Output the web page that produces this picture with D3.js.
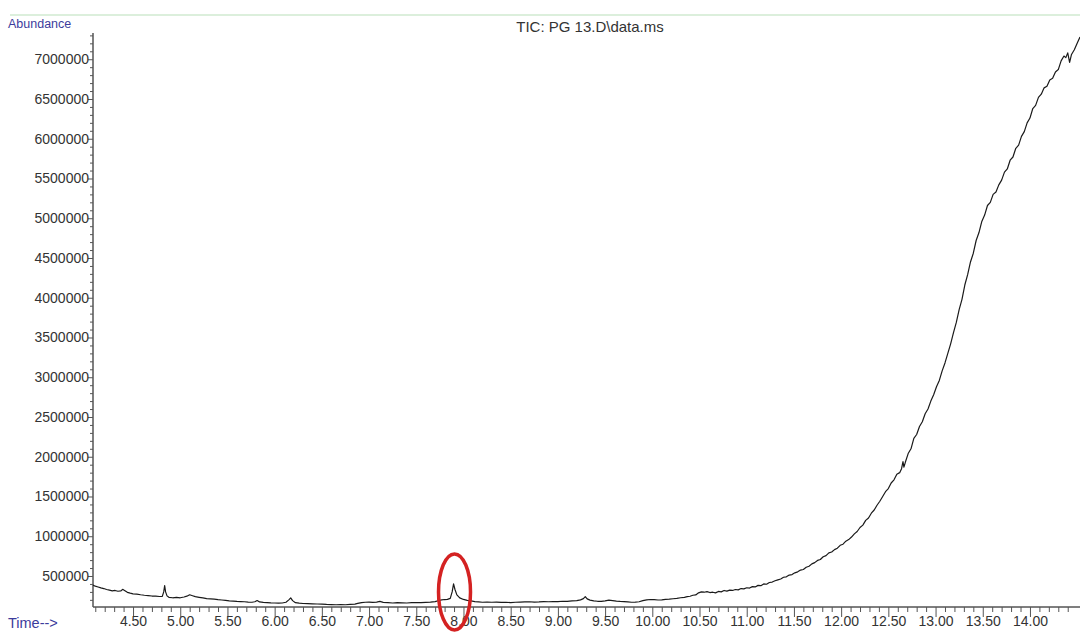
<!DOCTYPE html>
<html>
<head>
<meta charset="utf-8">
<script src="https://cdn.jsdelivr.net/npm/d3@7"></script>
<style>
  html, body { margin: 0; padding: 0; background: #fff; }
  svg { display: block; }
  text { font-family: "Liberation Sans", Arial, Helvetica, sans-serif; }
</style>
</head>
<body>
<svg id="chart" width="1080" height="632"></svg>
<script>
// Total ion chromatogram, PG 13.D
const title = "TIC: PG 13.D\\data.ms";
const yLabel = "Abundance";
const xLabel = "Time-->";

// retention time (min)
const time = [
  4.076, 4.10, 4.13, 4.16, 4.19, 4.22, 4.25, 4.28, 4.31, 4.34,
  4.37, 4.39, 4.41, 4.44, 4.47, 4.50, 4.54, 4.58, 4.62, 4.66,
  4.70, 4.74, 4.78, 4.81, 4.825, 4.835, 4.845, 4.86, 4.88, 4.92,
  4.96, 5.00, 5.04, 5.07, 5.10, 5.13, 5.16, 5.20, 5.24, 5.28,
  5.32, 5.36, 5.40, 5.44, 5.48, 5.52, 5.56, 5.60, 5.64, 5.68,
  5.72, 5.76, 5.79, 5.815, 5.84, 5.88, 5.92, 5.96, 6.00, 6.04,
  6.08, 6.12, 6.15, 6.17, 6.19, 6.22, 6.26, 6.30, 6.35, 6.40,
  6.45, 6.50, 6.55, 6.60, 6.65, 6.70, 6.75, 6.80, 6.85, 6.88,
  6.92, 6.96, 7.00, 7.04, 7.08, 7.115, 7.15, 7.20, 7.25, 7.30,
  7.35, 7.40, 7.45, 7.50, 7.55, 7.60, 7.65, 7.70, 7.74, 7.77,
  7.80, 7.83, 7.86, 7.88, 7.895, 7.91, 7.93, 7.96, 8.00, 8.04,
  8.08, 8.12, 8.16, 8.20, 8.25, 8.30, 8.35, 8.40, 8.45, 8.50,
  8.55, 8.60, 8.65, 8.70, 8.75, 8.80, 8.85, 8.90, 8.95, 9.00,
  9.05, 9.10, 9.15, 9.20, 9.24, 9.27, 9.29, 9.31, 9.34, 9.38,
  9.42, 9.46, 9.50, 9.54, 9.58, 9.62, 9.66, 9.70, 9.74, 9.78,
  9.82, 9.86, 9.90, 9.94, 9.98, 10.02, 10.06, 10.10, 10.14, 10.18,
  10.22, 10.26, 10.30, 10.34, 10.37, 10.40, 10.43, 10.46, 10.49, 10.52,
  10.55, 10.58, 10.61, 10.64, 10.67, 10.70, 10.73, 10.76, 10.79, 10.82,
  10.85, 10.88, 10.91, 10.94, 10.97, 11.00, 11.03, 11.06, 11.09, 11.12,
  11.15, 11.18, 11.21, 11.24, 11.27, 11.30, 11.33, 11.36, 11.39, 11.42,
  11.45, 11.48, 11.51, 11.54, 11.57, 11.60, 11.63, 11.66, 11.69, 11.72,
  11.75, 11.78, 11.81, 11.84, 11.87, 11.90, 11.93, 11.96, 11.99, 12.02,
  12.05, 12.08, 12.11, 12.14, 12.17, 12.20, 12.23, 12.26, 12.29, 12.32,
  12.35, 12.38, 12.41, 12.44, 12.47, 12.50, 12.53, 12.56, 12.59, 12.62,
  12.64, 12.655, 12.665, 12.68, 12.71, 12.74, 12.77, 12.80, 12.83, 12.86,
  12.89, 12.92, 12.95, 12.98, 13.01, 13.04, 13.07, 13.10, 13.13, 13.16,
  13.19, 13.22, 13.25, 13.28, 13.31, 13.34, 13.37, 13.40, 13.43, 13.46,
  13.49, 13.52, 13.55, 13.58, 13.61, 13.64, 13.67, 13.70, 13.73, 13.76,
  13.79, 13.82, 13.85, 13.88, 13.91, 13.94, 13.97, 14.00, 14.03, 14.06,
  14.09, 14.12, 14.15, 14.18, 14.21, 14.24, 14.27, 14.30, 14.33, 14.36,
  14.38, 14.40, 14.42, 14.44, 14.47, 14.50, 14.53
];

// total ion abundance at each retention time
const abundance = [
  385000, 372000, 362000, 350000, 342000, 330000, 322000, 312000, 318000, 308000,
  312000, 332000, 318000, 294000, 284000, 276000, 272000, 264000, 258000, 254000,
  248000, 246000, 242000, 244000, 300000, 378000, 300000, 250000, 232000, 226000,
  230000, 226000, 236000, 246000, 264000, 252000, 240000, 232000, 224000, 216000,
  212000, 208000, 202000, 198000, 194000, 188000, 184000, 180000, 178000, 176000,
  172000, 170000, 176000, 192000, 174000, 168000, 166000, 162000, 160000, 158000,
  160000, 170000, 200000, 224000, 190000, 164000, 158000, 154000, 152000, 150000,
  148000, 146000, 142000, 140000, 138000, 140000, 138000, 142000, 146000, 156000,
  166000, 170000, 172000, 168000, 172000, 180000, 168000, 164000, 160000, 164000,
  162000, 160000, 164000, 166000, 164000, 168000, 172000, 178000, 192000, 200000,
  204000, 206000, 218000, 300000, 400000, 330000, 262000, 225000, 205000, 194000,
  186000, 178000, 174000, 170000, 172000, 170000, 172000, 168000, 170000, 166000,
  170000, 172000, 174000, 176000, 172000, 174000, 178000, 176000, 178000, 178000,
  182000, 180000, 186000, 190000, 200000, 215000, 240000, 212000, 196000, 186000,
  182000, 180000, 186000, 196000, 190000, 184000, 180000, 178000, 174000, 170000,
  172000, 176000, 190000, 200000, 204000, 202000, 198000, 200000, 206000, 208000,
  214000, 218000, 226000, 232000, 240000, 245000, 258000, 262000, 288000, 300000,
  296000, 304000, 292000, 296000, 288000, 306000, 300000, 318000, 310000, 322000,
  318000, 330000, 326000, 342000, 338000, 352000, 348000, 366000, 362000, 382000,
  378000, 400000, 396000, 418000, 424000, 440000, 452000, 462000, 484000, 490000,
  512000, 518000, 540000, 552000, 574000, 582000, 610000, 622000, 652000, 668000,
  696000, 708000, 742000, 756000, 790000, 802000, 832000, 850000, 886000, 900000,
  938000, 958000, 990000, 1030000, 1060000, 1110000, 1140000, 1200000, 1230000, 1290000,
  1330000, 1390000, 1440000, 1500000, 1560000, 1600000, 1670000, 1710000, 1780000, 1800000,
  1850000, 1940000, 1870000, 1930000, 2040000, 2100000, 2230000, 2280000, 2380000, 2440000,
  2540000, 2600000, 2700000, 2780000, 2880000, 2960000, 3080000, 3180000, 3300000, 3420000,
  3560000, 3690000, 3850000, 3980000, 4160000, 4290000, 4450000, 4560000, 4720000, 4820000,
  4960000, 5040000, 5160000, 5200000, 5300000, 5330000, 5420000, 5480000, 5580000, 5620000,
  5730000, 5770000, 5880000, 5920000, 6030000, 6090000, 6200000, 6260000, 6380000, 6420000,
  6520000, 6560000, 6640000, 6660000, 6740000, 6760000, 6840000, 6870000, 6980000, 7040000,
  7020000, 7080000, 6960000, 7060000, 7120000, 7200000, 7280000
];

// axis ticks
const xTicks = [4.5, 5, 5.5, 6, 6.5, 7, 7.5, 8, 8.5, 9, 9.5, 10, 10.5, 11, 11.5, 12, 12.5, 13, 13.5, 14];
const yTicks = [500000, 1000000, 1500000, 2000000, 2500000, 3000000, 3500000,
                4000000, 4500000, 5000000, 5500000, 6000000, 6500000, 7000000];

// highlighted peak
const peakTime = 7.905;
const peakMid = 300000;

const svg = d3.select("#chart");
const W = 1080, H = 632;
const plotLeft = 93, plotRight = 1080, plotTop = 33, plotBottom = 607;

const x = d3.scaleLinear().domain([4.076, 14.53]).range([plotLeft, plotRight]);
const y = d3.scaleLinear().domain([110000, 7330000]).range([plotBottom, plotTop]);

// faint rule along the top
svg.append("line")
  .attr("x1", 10).attr("x2", W).attr("y1", 15).attr("y2", 15)
  .attr("stroke", "#dcefdc").attr("stroke-width", 2);

// title and axis captions
svg.append("text").attr("x", 590).attr("y", 32).attr("text-anchor", "middle")
  .attr("font-size", 15).attr("fill", "#333").text(title);
svg.append("text").attr("x", 8).attr("y", 28)
  .attr("font-size", 12.5).attr("fill", "#3c3c9c").text(yLabel);
svg.append("text").attr("x", 8).attr("y", 628)
  .attr("font-size", 14.5).attr("fill", "#3c3c9c").text(xLabel);

// y axis: major labelled ticks, minor ticks every 100000
const yMinor = d3.range(200000, 7300001, 100000).filter(v => v % 500000 !== 0);
const yAxisG = svg.append("g").attr("transform", `translate(${plotLeft},0)`);
yAxisG.call(d3.axisLeft(y).tickValues(yMinor).tickSize(3).tickFormat(""));
yAxisG.append("g").call(d3.axisLeft(y).tickValues(yTicks).tickSize(5).tickSizeOuter(0)
  .tickFormat(d3.format("d")));
yAxisG.selectAll("path.domain").attr("stroke", "#555").attr("d", `M0,${plotTop}V${plotBottom}`);
yAxisG.selectAll(".tick line").attr("stroke", "#555");
yAxisG.selectAll(".tick text")
  .attr("font-size", 14).attr("fill", "#333").attr("x", -4)
  .attr("font-family", '"Liberation Sans", Arial, sans-serif');

// x axis: major ticks every 0.5 min, minor every 0.1 min
const xMinor = d3.range(41, 146).map(v => v / 10).filter(v => Math.abs(v * 2 - Math.round(v * 2)) > 1e-6);
const xAxisG = svg.append("g").attr("transform", `translate(0,${plotBottom})`);
xAxisG.call(d3.axisBottom(x).tickValues(xMinor).tickSize(5).tickFormat(""));
xAxisG.append("g").call(d3.axisBottom(x).tickValues(xTicks).tickSize(10).tickSizeOuter(0)
  .tickFormat(d3.format(".2f")));
xAxisG.selectAll("path.domain").attr("stroke", "#555").attr("d", `M${plotLeft},0H${plotRight}`);
xAxisG.selectAll(".tick line").attr("stroke", "#555");
xAxisG.selectAll(".tick text")
  .attr("font-size", 14).attr("fill", "#333").attr("y", 9)
  .attr("font-family", '"Liberation Sans", Arial, sans-serif');

// chromatogram trace
const n = Math.min(time.length, abundance.length);
const pts = d3.range(n).map(i => [time[i], abundance[i]]);
svg.append("path")
  .datum(pts)
  .attr("fill", "none")
  .attr("stroke", "#1a1a1a")
  .attr("stroke-width", 1.2)
  .attr("stroke-linejoin", "round")
  .attr("d", d3.line().x(d => x(d[0])).y(d => y(d[1])));

// red ring around the peak near 7.9 min
svg.append("ellipse")
  .attr("cx", x(peakTime)).attr("cy", y(peakMid))
  .attr("rx", 16).attr("ry", 38)
  .attr("fill", "none").attr("stroke", "#d42222").attr("stroke-width", 3.5);
</script>
</body>
</html>
